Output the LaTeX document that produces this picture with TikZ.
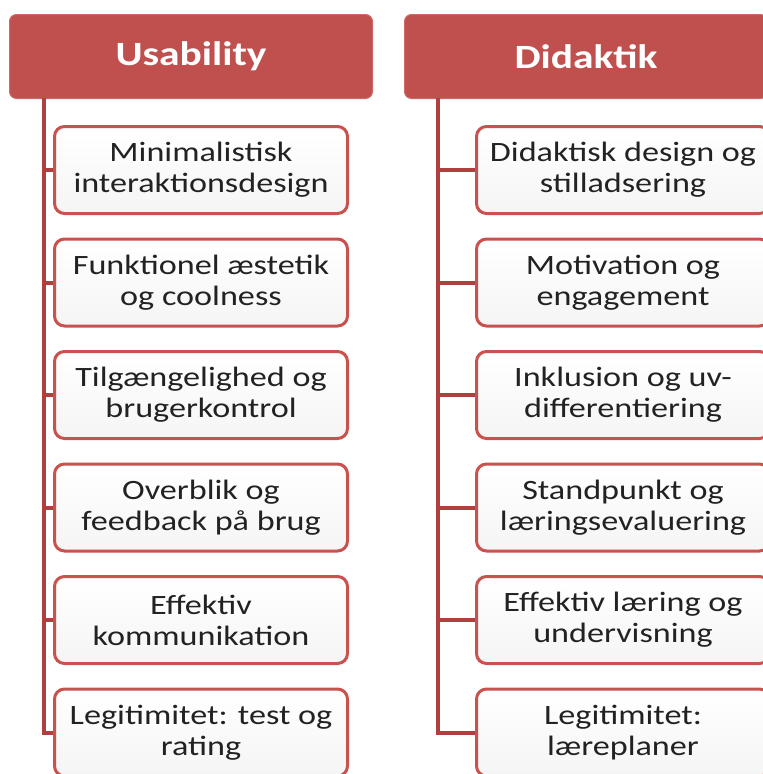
\documentclass[tikz,border=0pt]{standalone}
\usepackage{fontspec}
\setmainfont{Carlito}[FakeStretch=1.22]
\definecolor{hdrred}{HTML}{C0504D}
\definecolor{hdredge}{HTML}{CD6A67}
\definecolor{boxred}{HTML}{C9514E}
\definecolor{connred}{HTML}{B0403E}
\definecolor{txtgray}{HTML}{222222}
\tikzset{
  header/.style={rectangle, rounded corners=7pt, fill=hdrred, draw=hdredge, line width=1pt,
    minimum width=363pt, minimum height=84pt, text=white,
    font=\fontsize{34}{38}\selectfont\bfseries},
  itembox/.style={rectangle, rounded corners=10pt, draw=boxred, line width=3pt,
    top color=white, bottom color=black!4, minimum width=293pt, minimum height=87pt,
    align=center, text=txtgray, inner sep=2pt,
    font=\fontsize{28}{31}\selectfont},
  conn/.style={draw=connred, line width=4pt}
}
\begin{document}
\begin{tikzpicture}[x=1pt,y=-1pt]
\useasboundingbox (0,0) rectangle (763,774);
\clip (0,0) rectangle (763,774);
% headers
\node[header] (h1) at (191,56.5) {Usability};
\node[header] (h2) at (586,56.5) {Didaktik};
% left column
\node[itembox] (a1) at (201,170) {Minimalistisk\\interaktionsdesign};
\node[itembox] (a2) at (201,282.5) {Funktionel æstetik\\og coolness};
\node[itembox] (a3) at (201,395) {Tilgængelighed og\\brugerkontrol};
\node[itembox] (a4) at (201,507.5) {Overblik og\\feedback på brug};
\node[itembox] (a5) at (201,620) {Effektiv\\kommunikation};
\node[itembox] (a6) at (201,732.5) {Legitimitet: test og\\rating};
% right column
\node[itembox] (b1) at (623,170) {Didaktisk design og\\stilladsering};
\node[itembox] (b2) at (623,282.5) {Motivation og\\engagement};
\node[itembox] (b3) at (623,395) {Inklusion og uv-\\differentiering};
\node[itembox] (b4) at (623,507.5) {Standpunkt og\\læringsevaluering};
\node[itembox] (b5) at (623,620) {Effektiv læring og\\undervisning};
\node[itembox] (b6) at (623,732.5) {Legitimitet:\\læreplaner};
% trunk start points
\coordinate (ta) at (44,98);
\coordinate (tb) at (437.5,98);
% connectors
\draw[conn] (ta) |- (a6.west);
\foreach \n in {a1,a2,a3,a4,a5}{\draw[conn] (ta |- \n.west) -- (\n.west);}
\draw[conn] (tb) |- (b6.west);
\foreach \n in {b1,b2,b3,b4,b5}{\draw[conn] (tb |- \n.west) -- (\n.west);}
\end{tikzpicture}
\end{document}
